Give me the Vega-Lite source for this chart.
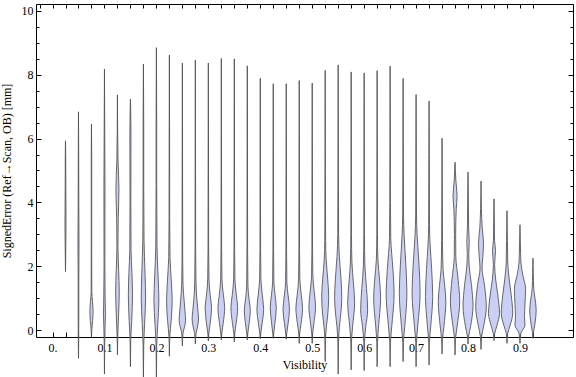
{
"$schema": "https://vega.github.io/schema/vega-lite/v6.json",
"width": 537, "height": 333,
"autosize": {"type": "none"},
"padding": {"left": 36, "top": 4, "right": 3, "bottom": 40},
"background": "white",
"config": {"view": {"stroke": null}, "font": "Liberation Serif"},
"data": {"values": [
{"v":0.025,"e":1.83,"lo":0.025,"hi":0.025},{"v":0.025,"e":2.3,"lo":0.0246,"hi":0.0254},{"v":0.025,"e":3.3,"lo":0.024,"hi":0.026},{"v":0.025,"e":4.5,"lo":0.0244,"hi":0.0256},{"v":0.025,"e":5.5,"lo":0.0246,"hi":0.0254},{"v":0.025,"e":5.93,"lo":0.025,"hi":0.025},
{"v":0.05,"e":-0.89,"lo":0.05,"hi":0.05},{"v":0.05,"e":-0.3,"lo":0.0496,"hi":0.0504},{"v":0.05,"e":0.5,"lo":0.0494,"hi":0.0506},{"v":0.05,"e":1.5,"lo":0.0494,"hi":0.0506},{"v":0.05,"e":2.7,"lo":0.049,"hi":0.051},{"v":0.05,"e":4,"lo":0.0494,"hi":0.0506},{"v":0.05,"e":5.5,"lo":0.0496,"hi":0.0504},{"v":0.05,"e":6.84,"lo":0.05,"hi":0.05},
{"v":0.075,"e":-0.21,"lo":0.075,"hi":0.075},{"v":0.075,"e":0.05,"lo":0.0742,"hi":0.0758},{"v":0.075,"e":0.3,"lo":0.0727,"hi":0.0773},{"v":0.075,"e":0.6,"lo":0.0719,"hi":0.0781},{"v":0.075,"e":0.9,"lo":0.0731,"hi":0.0769},{"v":0.075,"e":1.2,"lo":0.0744,"hi":0.0756},{"v":0.075,"e":2.5,"lo":0.0746,"hi":0.0754},{"v":0.075,"e":5.5,"lo":0.0746,"hi":0.0754},{"v":0.075,"e":6.46,"lo":0.075,"hi":0.075},
{"v":0.1,"e":-1.38,"lo":0.1,"hi":0.1},{"v":0.1,"e":-0.5,"lo":0.0996,"hi":0.1004},{"v":0.1,"e":0.1,"lo":0.0988,"hi":0.1012},{"v":0.1,"e":0.5,"lo":0.0981,"hi":0.1019},{"v":0.1,"e":1.0,"lo":0.0987,"hi":0.1013},{"v":0.1,"e":2,"lo":0.0992,"hi":0.1008},{"v":0.1,"e":4.5,"lo":0.099,"hi":0.101},{"v":0.1,"e":6,"lo":0.0994,"hi":0.1006},{"v":0.1,"e":8.18,"lo":0.1,"hi":0.1},
{"v":0.125,"e":-0.78,"lo":0.125,"hi":0.125},{"v":0.125,"e":-0.2,"lo":0.1244,"hi":0.1256},{"v":0.125,"e":0.5,"lo":0.1227,"hi":0.1273},{"v":0.125,"e":1.2,"lo":0.1215,"hi":0.1285},{"v":0.125,"e":1.9,"lo":0.1227,"hi":0.1273},{"v":0.125,"e":2.6,"lo":0.124,"hi":0.126},{"v":0.125,"e":3.5,"lo":0.1235,"hi":0.1265},{"v":0.125,"e":4.4,"lo":0.1221,"hi":0.1279},{"v":0.125,"e":5.3,"lo":0.1238,"hi":0.1262},{"v":0.125,"e":6.2,"lo":0.1246,"hi":0.1254},{"v":0.125,"e":7.37,"lo":0.125,"hi":0.125},
{"v":0.15,"e":-1.15,"lo":0.15,"hi":0.15},{"v":0.15,"e":-0.3,"lo":0.1494,"hi":0.1506},{"v":0.15,"e":0.3,"lo":0.1475,"hi":0.1525},{"v":0.15,"e":1.1,"lo":0.146,"hi":0.154},{"v":0.15,"e":1.8,"lo":0.1471,"hi":0.1529},{"v":0.15,"e":2.5,"lo":0.1488,"hi":0.1512},{"v":0.15,"e":4,"lo":0.1492,"hi":0.1508},{"v":0.15,"e":6.2,"lo":0.149,"hi":0.151},{"v":0.15,"e":7.24,"lo":0.15,"hi":0.15},
{"v":0.175,"e":-1.55,"lo":0.175,"hi":0.175},{"v":0.175,"e":-0.5,"lo":0.1744,"hi":0.1756},{"v":0.175,"e":0.2,"lo":0.1727,"hi":0.1773},{"v":0.175,"e":1.0,"lo":0.1708,"hi":0.1792},{"v":0.175,"e":1.8,"lo":0.1719,"hi":0.1781},{"v":0.175,"e":2.8,"lo":0.1738,"hi":0.1762},{"v":0.175,"e":4.5,"lo":0.1744,"hi":0.1756},{"v":0.175,"e":6.5,"lo":0.1744,"hi":0.1756},{"v":0.175,"e":8.34,"lo":0.175,"hi":0.175},
{"v":0.2,"e":-1.55,"lo":0.2,"hi":0.2},{"v":0.2,"e":-0.5,"lo":0.1994,"hi":0.2006},{"v":0.2,"e":0.2,"lo":0.1973,"hi":0.2027},{"v":0.2,"e":0.9,"lo":0.1952,"hi":0.2048},{"v":0.2,"e":1.7,"lo":0.1967,"hi":0.2033},{"v":0.2,"e":2.6,"lo":0.1988,"hi":0.2012},{"v":0.2,"e":4.5,"lo":0.1994,"hi":0.2006},{"v":0.2,"e":6.5,"lo":0.1994,"hi":0.2006},{"v":0.2,"e":8.85,"lo":0.2,"hi":0.2},
{"v":0.225,"e":-0.82,"lo":0.225,"hi":0.225},{"v":0.225,"e":-0.2,"lo":0.2242,"hi":0.2258},{"v":0.225,"e":0.3,"lo":0.2215,"hi":0.2285},{"v":0.225,"e":0.9,"lo":0.2196,"hi":0.2304},{"v":0.225,"e":1.5,"lo":0.2211,"hi":0.2289},{"v":0.225,"e":2.3,"lo":0.2238,"hi":0.2262},{"v":0.225,"e":3.5,"lo":0.2244,"hi":0.2256},{"v":0.225,"e":6,"lo":0.2246,"hi":0.2254},{"v":0.225,"e":8.62,"lo":0.225,"hi":0.225},
{"v":0.25,"e":-0.5,"lo":0.25,"hi":0.25},{"v":0.25,"e":-0.1,"lo":0.2488,"hi":0.2512},{"v":0.25,"e":0.1,"lo":0.2458,"hi":0.2542},{"v":0.25,"e":0.3,"lo":0.2438,"hi":0.2562},{"v":0.25,"e":0.6,"lo":0.245,"hi":0.255},{"v":0.25,"e":0.9,"lo":0.2465,"hi":0.2535},{"v":0.25,"e":1.4,"lo":0.2487,"hi":0.2513},{"v":0.25,"e":2.2,"lo":0.2494,"hi":0.2506},{"v":0.25,"e":5,"lo":0.2496,"hi":0.2504},{"v":0.25,"e":8.37,"lo":0.25,"hi":0.25},
{"v":0.275,"e":-0.44,"lo":0.275,"hi":0.275},{"v":0.275,"e":-0.1,"lo":0.2735,"hi":0.2765},{"v":0.275,"e":0.1,"lo":0.2708,"hi":0.2792},{"v":0.275,"e":0.35,"lo":0.2688,"hi":0.2812},{"v":0.275,"e":0.6,"lo":0.27,"hi":0.28},{"v":0.275,"e":1.0,"lo":0.2723,"hi":0.2777},{"v":0.275,"e":1.5,"lo":0.2738,"hi":0.2762},{"v":0.275,"e":2.5,"lo":0.2744,"hi":0.2756},{"v":0.275,"e":5,"lo":0.2746,"hi":0.2754},{"v":0.275,"e":8.46,"lo":0.275,"hi":0.275},
{"v":0.3,"e":-0.34,"lo":0.3,"hi":0.3},{"v":0.3,"e":-0.1,"lo":0.299,"hi":0.301},{"v":0.3,"e":0.2,"lo":0.2965,"hi":0.3035},{"v":0.3,"e":0.7,"lo":0.2938,"hi":0.3062},{"v":0.3,"e":1.1,"lo":0.2965,"hi":0.3035},{"v":0.3,"e":1.6,"lo":0.2988,"hi":0.3012},{"v":0.3,"e":2.5,"lo":0.2994,"hi":0.3006},{"v":0.3,"e":5,"lo":0.2996,"hi":0.3004},{"v":0.3,"e":8.37,"lo":0.3,"hi":0.3},
{"v":0.325,"e":-0.31,"lo":0.325,"hi":0.325},{"v":0.325,"e":-0.1,"lo":0.324,"hi":0.326},{"v":0.325,"e":0.2,"lo":0.3215,"hi":0.3285},{"v":0.325,"e":0.7,"lo":0.3185,"hi":0.3315},{"v":0.325,"e":1.1,"lo":0.3211,"hi":0.3289},{"v":0.325,"e":1.6,"lo":0.3238,"hi":0.3262},{"v":0.325,"e":2.5,"lo":0.3244,"hi":0.3256},{"v":0.325,"e":5,"lo":0.3246,"hi":0.3254},{"v":0.325,"e":8.51,"lo":0.325,"hi":0.325},
{"v":0.35,"e":-0.37,"lo":0.35,"hi":0.35},{"v":0.35,"e":-0.1,"lo":0.349,"hi":0.351},{"v":0.35,"e":0.2,"lo":0.3465,"hi":0.3535},{"v":0.35,"e":0.7,"lo":0.3435,"hi":0.3565},{"v":0.35,"e":1.1,"lo":0.3461,"hi":0.3539},{"v":0.35,"e":1.6,"lo":0.3488,"hi":0.3512},{"v":0.35,"e":2.5,"lo":0.3494,"hi":0.3506},{"v":0.35,"e":5,"lo":0.3496,"hi":0.3504},{"v":0.35,"e":8.5,"lo":0.35,"hi":0.35},
{"v":0.375,"e":-0.31,"lo":0.375,"hi":0.375},{"v":0.375,"e":-0.1,"lo":0.374,"hi":0.376},{"v":0.375,"e":0.2,"lo":0.3715,"hi":0.3785},{"v":0.375,"e":0.63,"lo":0.3692,"hi":0.3808},{"v":0.375,"e":1.0,"lo":0.3719,"hi":0.3781},{"v":0.375,"e":1.4,"lo":0.3738,"hi":0.3762},{"v":0.375,"e":2.5,"lo":0.3744,"hi":0.3756},{"v":0.375,"e":5,"lo":0.3746,"hi":0.3754},{"v":0.375,"e":8.28,"lo":0.375,"hi":0.375},
{"v":0.4,"e":-0.27,"lo":0.4,"hi":0.4},{"v":0.4,"e":-0.1,"lo":0.399,"hi":0.401},{"v":0.4,"e":0.2,"lo":0.3965,"hi":0.4035},{"v":0.4,"e":0.65,"lo":0.3935,"hi":0.4065},{"v":0.4,"e":1.1,"lo":0.3961,"hi":0.4039},{"v":0.4,"e":1.6,"lo":0.3988,"hi":0.4012},{"v":0.4,"e":2.5,"lo":0.3994,"hi":0.4006},{"v":0.4,"e":5,"lo":0.3996,"hi":0.4004},{"v":0.4,"e":7.89,"lo":0.4,"hi":0.4},
{"v":0.425,"e":-0.26,"lo":0.425,"hi":0.425},{"v":0.425,"e":-0.1,"lo":0.424,"hi":0.426},{"v":0.425,"e":0.2,"lo":0.4219,"hi":0.4281},{"v":0.425,"e":0.7,"lo":0.4192,"hi":0.4308},{"v":0.425,"e":1.1,"lo":0.4215,"hi":0.4285},{"v":0.425,"e":1.5,"lo":0.4238,"hi":0.4262},{"v":0.425,"e":2.5,"lo":0.4244,"hi":0.4256},{"v":0.425,"e":5,"lo":0.4246,"hi":0.4254},{"v":0.425,"e":7.72,"lo":0.425,"hi":0.425},
{"v":0.45,"e":-0.29,"lo":0.45,"hi":0.45},{"v":0.45,"e":-0.1,"lo":0.449,"hi":0.451},{"v":0.45,"e":0.2,"lo":0.4465,"hi":0.4535},{"v":0.45,"e":0.65,"lo":0.4438,"hi":0.4562},{"v":0.45,"e":1.1,"lo":0.4465,"hi":0.4535},{"v":0.45,"e":1.5,"lo":0.4488,"hi":0.4512},{"v":0.45,"e":2.5,"lo":0.4494,"hi":0.4506},{"v":0.45,"e":5,"lo":0.4496,"hi":0.4504},{"v":0.45,"e":7.72,"lo":0.45,"hi":0.45},
{"v":0.475,"e":-0.42,"lo":0.475,"hi":0.475},{"v":0.475,"e":-0.1,"lo":0.474,"hi":0.476},{"v":0.475,"e":0.2,"lo":0.4715,"hi":0.4785},{"v":0.475,"e":0.68,"lo":0.4686,"hi":0.4814},{"v":0.475,"e":1.1,"lo":0.4711,"hi":0.4789},{"v":0.475,"e":1.6,"lo":0.4738,"hi":0.4762},{"v":0.475,"e":2.5,"lo":0.4744,"hi":0.4756},{"v":0.475,"e":5,"lo":0.4746,"hi":0.4754},{"v":0.475,"e":7.82,"lo":0.475,"hi":0.475},
{"v":0.5,"e":-0.42,"lo":0.5,"hi":0.5},{"v":0.5,"e":-0.1,"lo":0.499,"hi":0.501},{"v":0.5,"e":0.2,"lo":0.4969,"hi":0.5031},{"v":0.5,"e":0.73,"lo":0.4936,"hi":0.5064},{"v":0.5,"e":1.2,"lo":0.4961,"hi":0.5039},{"v":0.5,"e":1.7,"lo":0.4988,"hi":0.5012},{"v":0.5,"e":2.5,"lo":0.4994,"hi":0.5006},{"v":0.5,"e":5,"lo":0.4996,"hi":0.5004},{"v":0.5,"e":7.74,"lo":0.5,"hi":0.5},
{"v":0.525,"e":-0.99,"lo":0.525,"hi":0.525},{"v":0.525,"e":-0.3,"lo":0.5244,"hi":0.5256},{"v":0.525,"e":0.1,"lo":0.5227,"hi":0.5273},{"v":0.525,"e":0.5,"lo":0.52,"hi":0.53},{"v":0.525,"e":1.05,"lo":0.5183,"hi":0.5317},{"v":0.525,"e":1.6,"lo":0.5202,"hi":0.5298},{"v":0.525,"e":2.2,"lo":0.5231,"hi":0.5269},{"v":0.525,"e":2.8,"lo":0.5242,"hi":0.5258},{"v":0.525,"e":5,"lo":0.5246,"hi":0.5254},{"v":0.525,"e":8.14,"lo":0.525,"hi":0.525},
{"v":0.55,"e":-1.38,"lo":0.55,"hi":0.55},{"v":0.55,"e":-0.4,"lo":0.5494,"hi":0.5506},{"v":0.55,"e":0.1,"lo":0.5477,"hi":0.5523},{"v":0.55,"e":0.5,"lo":0.545,"hi":0.555},{"v":0.55,"e":1.0,"lo":0.5431,"hi":0.5569},{"v":0.55,"e":1.6,"lo":0.5446,"hi":0.5554},{"v":0.55,"e":2.3,"lo":0.5477,"hi":0.5523},{"v":0.55,"e":3.0,"lo":0.5492,"hi":0.5508},{"v":0.55,"e":5,"lo":0.5496,"hi":0.5504},{"v":0.55,"e":8.31,"lo":0.55,"hi":0.55},
{"v":0.575,"e":-1.25,"lo":0.575,"hi":0.575},{"v":0.575,"e":-0.4,"lo":0.5744,"hi":0.5756},{"v":0.575,"e":0.1,"lo":0.5723,"hi":0.5777},{"v":0.575,"e":0.85,"lo":0.5683,"hi":0.5817},{"v":0.575,"e":1.5,"lo":0.5708,"hi":0.5792},{"v":0.575,"e":2.1,"lo":0.5735,"hi":0.5765},{"v":0.575,"e":3,"lo":0.5744,"hi":0.5756},{"v":0.575,"e":5,"lo":0.5746,"hi":0.5754},{"v":0.575,"e":8.09,"lo":0.575,"hi":0.575},
{"v":0.6,"e":-1.27,"lo":0.6,"hi":0.6},{"v":0.6,"e":-0.4,"lo":0.5994,"hi":0.6006},{"v":0.6,"e":0.1,"lo":0.5969,"hi":0.6031},{"v":0.6,"e":0.63,"lo":0.5933,"hi":0.6067},{"v":0.6,"e":1.3,"lo":0.5954,"hi":0.6046},{"v":0.6,"e":2.0,"lo":0.5985,"hi":0.6015},{"v":0.6,"e":3,"lo":0.5994,"hi":0.6006},{"v":0.6,"e":5,"lo":0.5996,"hi":0.6004},{"v":0.6,"e":8.06,"lo":0.6,"hi":0.6},
{"v":0.625,"e":-1.15,"lo":0.625,"hi":0.625},{"v":0.625,"e":-0.4,"lo":0.6244,"hi":0.6256},{"v":0.625,"e":0.1,"lo":0.6223,"hi":0.6277},{"v":0.625,"e":1.0,"lo":0.6183,"hi":0.6317},{"v":0.625,"e":1.6,"lo":0.6204,"hi":0.6296},{"v":0.625,"e":2.2,"lo":0.6235,"hi":0.6265},{"v":0.625,"e":3,"lo":0.6244,"hi":0.6256},{"v":0.625,"e":5,"lo":0.6246,"hi":0.6254},{"v":0.625,"e":8.13,"lo":0.625,"hi":0.625},
{"v":0.65,"e":-1.15,"lo":0.65,"hi":0.65},{"v":0.65,"e":-0.4,"lo":0.6494,"hi":0.6506},{"v":0.65,"e":0.1,"lo":0.6469,"hi":0.6531},{"v":0.65,"e":1.15,"lo":0.6423,"hi":0.6577},{"v":0.65,"e":1.9,"lo":0.6446,"hi":0.6554},{"v":0.65,"e":2.9,"lo":0.6488,"hi":0.6512},{"v":0.65,"e":4,"lo":0.6494,"hi":0.6506},{"v":0.65,"e":6,"lo":0.6496,"hi":0.6504},{"v":0.65,"e":8.27,"lo":0.65,"hi":0.65},
{"v":0.675,"e":-0.99,"lo":0.675,"hi":0.675},{"v":0.675,"e":-0.4,"lo":0.6744,"hi":0.6756},{"v":0.675,"e":0.1,"lo":0.6719,"hi":0.6781},{"v":0.675,"e":1.15,"lo":0.6677,"hi":0.6823},{"v":0.675,"e":2.0,"lo":0.6696,"hi":0.6804},{"v":0.675,"e":3.0,"lo":0.6731,"hi":0.6769},{"v":0.675,"e":3.6,"lo":0.6742,"hi":0.6758},{"v":0.675,"e":5.5,"lo":0.6746,"hi":0.6754},{"v":0.675,"e":7.89,"lo":0.675,"hi":0.675},
{"v":0.7,"e":-1.15,"lo":0.7,"hi":0.7},{"v":0.7,"e":-0.4,"lo":0.6994,"hi":0.7006},{"v":0.7,"e":0.1,"lo":0.6969,"hi":0.7031},{"v":0.7,"e":1.15,"lo":0.6923,"hi":0.7077},{"v":0.7,"e":2.0,"lo":0.6942,"hi":0.7058},{"v":0.7,"e":3.0,"lo":0.6981,"hi":0.7019},{"v":0.7,"e":3.6,"lo":0.6992,"hi":0.7008},{"v":0.7,"e":5.5,"lo":0.6996,"hi":0.7004},{"v":0.7,"e":7.38,"lo":0.7,"hi":0.7},
{"v":0.725,"e":-1.1,"lo":0.725,"hi":0.725},{"v":0.725,"e":-0.4,"lo":0.7244,"hi":0.7256},{"v":0.725,"e":0.1,"lo":0.7219,"hi":0.7281},{"v":0.725,"e":1.05,"lo":0.7181,"hi":0.7319},{"v":0.725,"e":1.9,"lo":0.72,"hi":0.73},{"v":0.725,"e":2.7,"lo":0.7231,"hi":0.7269},{"v":0.725,"e":3.3,"lo":0.7242,"hi":0.7258},{"v":0.725,"e":5.5,"lo":0.7246,"hi":0.7254},{"v":0.725,"e":7.18,"lo":0.725,"hi":0.725},
{"v":0.75,"e":-0.75,"lo":0.75,"hi":0.75},{"v":0.75,"e":-0.3,"lo":0.7492,"hi":0.7508},{"v":0.75,"e":0.1,"lo":0.7465,"hi":0.7535},{"v":0.75,"e":0.9,"lo":0.7427,"hi":0.7573},{"v":0.75,"e":1.4,"lo":0.745,"hi":0.755},{"v":0.75,"e":1.9,"lo":0.7481,"hi":0.7519},{"v":0.75,"e":2.8,"lo":0.7492,"hi":0.7508},{"v":0.75,"e":4.5,"lo":0.7496,"hi":0.7504},{"v":0.75,"e":6.01,"lo":0.75,"hi":0.75},
{"v":0.775,"e":-0.78,"lo":0.775,"hi":0.775},{"v":0.775,"e":-0.3,"lo":0.7742,"hi":0.7758},{"v":0.775,"e":0.1,"lo":0.7711,"hi":0.7789},{"v":0.775,"e":0.9,"lo":0.766,"hi":0.784},{"v":0.775,"e":1.6,"lo":0.7692,"hi":0.7808},{"v":0.775,"e":2.3,"lo":0.7735,"hi":0.7765},{"v":0.775,"e":3.0,"lo":0.7738,"hi":0.7762},{"v":0.775,"e":3.8,"lo":0.7727,"hi":0.7773},{"v":0.775,"e":4.2,"lo":0.7711,"hi":0.7789},{"v":0.775,"e":4.7,"lo":0.7735,"hi":0.7765},{"v":0.775,"e":5.26,"lo":0.775,"hi":0.775},
{"v":0.8,"e":-0.44,"lo":0.8,"hi":0.8},{"v":0.8,"e":-0.2,"lo":0.7988,"hi":0.8012},{"v":0.8,"e":0.1,"lo":0.7952,"hi":0.8048},{"v":0.8,"e":0.75,"lo":0.7904,"hi":0.8096},{"v":0.8,"e":1.4,"lo":0.7933,"hi":0.8067},{"v":0.8,"e":2.0,"lo":0.7977,"hi":0.8023},{"v":0.8,"e":2.4,"lo":0.7985,"hi":0.8015},{"v":0.8,"e":2.75,"lo":0.7977,"hi":0.8023},{"v":0.8,"e":3.2,"lo":0.7988,"hi":0.8012},{"v":0.8,"e":4.2,"lo":0.7994,"hi":0.8006},{"v":0.8,"e":4.95,"lo":0.8,"hi":0.8},
{"v":0.825,"e":-0.61,"lo":0.825,"hi":0.825},{"v":0.825,"e":-0.2,"lo":0.8238,"hi":0.8262},{"v":0.825,"e":0.1,"lo":0.8202,"hi":0.8298},{"v":0.825,"e":0.73,"lo":0.8148,"hi":0.8352},{"v":0.825,"e":1.4,"lo":0.8183,"hi":0.8317},{"v":0.825,"e":1.95,"lo":0.8231,"hi":0.8269},{"v":0.825,"e":2.3,"lo":0.8215,"hi":0.8285},{"v":0.825,"e":2.72,"lo":0.8202,"hi":0.8298},{"v":0.825,"e":3.2,"lo":0.8227,"hi":0.8273},{"v":0.825,"e":3.8,"lo":0.8242,"hi":0.8258},{"v":0.825,"e":4.67,"lo":0.825,"hi":0.825},
{"v":0.85,"e":-0.33,"lo":0.85,"hi":0.85},{"v":0.85,"e":-0.1,"lo":0.8485,"hi":0.8515},{"v":0.85,"e":0.15,"lo":0.8442,"hi":0.8558},{"v":0.85,"e":0.52,"lo":0.8394,"hi":0.8606},{"v":0.85,"e":1.1,"lo":0.8427,"hi":0.8573},{"v":0.85,"e":1.6,"lo":0.8469,"hi":0.8531},{"v":0.85,"e":2.05,"lo":0.8488,"hi":0.8512},{"v":0.85,"e":2.5,"lo":0.8471,"hi":0.8529},{"v":0.85,"e":2.8,"lo":0.849,"hi":0.851},{"v":0.85,"e":3.5,"lo":0.8494,"hi":0.8506},{"v":0.85,"e":4.11,"lo":0.85,"hi":0.85},
{"v":0.875,"e":-0.42,"lo":0.875,"hi":0.875},{"v":0.875,"e":-0.1,"lo":0.8735,"hi":0.8765},{"v":0.875,"e":0.15,"lo":0.8688,"hi":0.8812},{"v":0.875,"e":0.53,"lo":0.864,"hi":0.886},{"v":0.875,"e":1.1,"lo":0.8669,"hi":0.8831},{"v":0.875,"e":1.6,"lo":0.8708,"hi":0.8792},{"v":0.875,"e":2.1,"lo":0.8735,"hi":0.8765},{"v":0.875,"e":2.8,"lo":0.8742,"hi":0.8758},{"v":0.875,"e":3.74,"lo":0.875,"hi":0.875},
{"v":0.9,"e":-0.42,"lo":0.9,"hi":0.9},{"v":0.9,"e":-0.1,"lo":0.8981,"hi":0.9019},{"v":0.9,"e":0.15,"lo":0.8904,"hi":0.9096},{"v":0.9,"e":0.42,"lo":0.8913,"hi":0.9087},{"v":0.9,"e":0.8,"lo":0.8904,"hi":0.9096},{"v":0.9,"e":1.3,"lo":0.8892,"hi":0.9108},{"v":0.9,"e":1.7,"lo":0.8942,"hi":0.9058},{"v":0.9,"e":2.1,"lo":0.8981,"hi":0.9019},{"v":0.9,"e":2.7,"lo":0.8992,"hi":0.9008},{"v":0.9,"e":3.3,"lo":0.9,"hi":0.9},
{"v":0.925,"e":-0.26,"lo":0.925,"hi":0.925},{"v":0.925,"e":-0.05,"lo":0.9238,"hi":0.9262},{"v":0.925,"e":0.2,"lo":0.9211,"hi":0.9289},{"v":0.925,"e":0.63,"lo":0.9188,"hi":0.9312},{"v":0.925,"e":1.0,"lo":0.9211,"hi":0.9289},{"v":0.925,"e":1.3,"lo":0.9235,"hi":0.9265},{"v":0.925,"e":1.8,"lo":0.9244,"hi":0.9256},{"v":0.925,"e":2.25,"lo":0.925,"hi":0.925}
]},
"layer": [
{
"mark": {"type": "area", "orient": "horizontal", "fill": "#c9cff5", "fillOpacity": 1, "stroke": "#505050", "strokeWidth": 1, "strokeOpacity": 0.85, "interpolate": "monotone"},
"encoding": {
"y": {"field": "e", "type": "quantitative", "scale": {"domain": [-0.219, 10.219], "nice": false, "zero": false},
"axis": {"orient": "left", "title": "SignedError (Ref\u2192Scan, OB) [mm]", "titleFont": "Liberation Serif", "titleFontSize": 12, "titleFontWeight": "normal", "titleColor": "#000000", "titlePadding": 8,
"values": [0,0.5,1,1.5,2,2.5,3,3.5,4,4.5,5,5.5,6,6.5,7,7.5,8,8.5,9,9.5,10],
"labelExpr": "datum.value % 2 == 0 ? format(datum.value, 'd') : ''",
"labelFont": "Liberation Serif", "labelFontSize": 12, "labelColor": "#000000", "labelPadding": 8,
"tickSize": {"condition": {"test": "datum.value % 2 == 0", "value": -5}, "value": -3},
"tickColor": "#000000", "domainColor": "#000000", "grid": false, "labelFlush": false, "labelOverlap": false}},
"x": {"field": "lo", "type": "quantitative", "scale": {"domain": [-0.0318, 1.0021], "nice": false, "zero": false},
"axis": {"orient": "bottom", "title": "Visibility", "titleFont": "Liberation Serif", "titleFontSize": 12, "titleFontWeight": "normal", "titleColor": "#000000", "titlePadding": 6,
"values": [0,0.025,0.05,0.075,0.1,0.125,0.15,0.175,0.2,0.225,0.25,0.275,0.3,0.325,0.35,0.375,0.4,0.425,0.45,0.475,0.5,0.525,0.55,0.575,0.6,0.625,0.65,0.675,0.7,0.725,0.75,0.775,0.8,0.825,0.85,0.875,0.9,0.925],
"labelExpr": "round(datum.value*40) % 4 == 0 ? (datum.value == 0 ? '0.' : format(datum.value, '.1f')) : ''",
"labelFont": "Liberation Serif", "labelFontSize": 12, "labelColor": "#000000", "labelPadding": 10,
"tickSize": -5, "tickColor": "#000000", "domainColor": "#000000", "grid": false, "labelFlush": false, "labelOverlap": false}},
"x2": {"field": "hi"},
"detail": {"field": "v", "type": "quantitative"}
}
},
{
"mark": {"type": "point", "opacity": 0},
"encoding": {
"y": {"field": "e", "type": "quantitative",
"axis": {"orient": "right", "title": null, "labels": false,
"values": [0,0.5,1,1.5,2,2.5,3,3.5,4,4.5,5,5.5,6,6.5,7,7.5,8,8.5,9,9.5,10],
"tickSize": {"condition": {"test": "datum.value % 2 == 0", "value": -5}, "value": -3},
"tickColor": "#000000", "domainColor": "#000000", "grid": false}},
"x": {"field": "lo", "type": "quantitative",
"axis": {"orient": "top", "title": null, "labels": false,
"values": [-0.025,0,0.025,0.05,0.075,0.1,0.125,0.15,0.175,0.2,0.225,0.25,0.275,0.3,0.325,0.35,0.375,0.4,0.425,0.45,0.475,0.5,0.525,0.55,0.575,0.6,0.625,0.65,0.675,0.7,0.725,0.75,0.775,0.8,0.825,0.85,0.875,0.9,0.925],
"tickSize": -4, "tickColor": "#000000", "domainColor": "#000000", "grid": false}}
}
}
],
"resolve": {"axis": {"x": "independent", "y": "independent"}}
}
